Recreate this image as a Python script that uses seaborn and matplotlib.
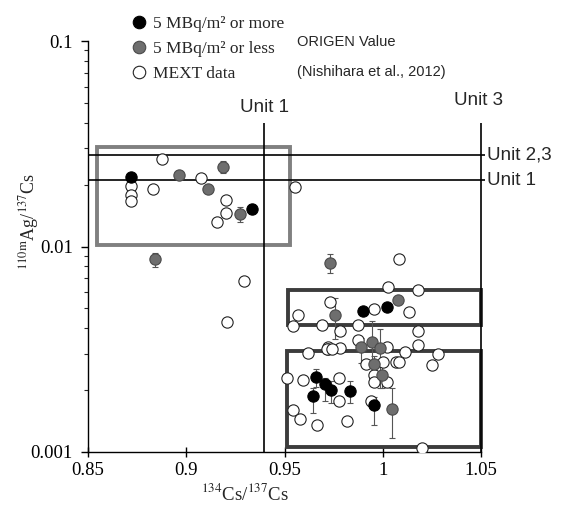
import matplotlib
matplotlib.use("Agg")
import numpy as np
import pandas as pd
import seaborn as sns
import matplotlib.pyplot as plt
from matplotlib.lines import Line2D
from matplotlib.patches import Rectangle

# ---- data ----
# 5 MBq/m2 or more (black)
black_x = [0.8719, 0.9336, 0.9900, 1.0022, 0.9660, 0.9706, 0.9737, 0.9644, 0.9832, 0.9955]
black_y = [0.0217, 0.0153, 0.00485, 0.00506, 0.00231, 0.00214, 0.00200, 0.00187, 0.00198, 0.00169]
black_lo = [0.0217, 0.0144, 0.00485, 0.00506, 0.00208, 0.00177, 0.00173, 0.00154, 0.00174, 0.00135]
black_hi = [0.0217, 0.0161, 0.00485, 0.00506, 0.00253, 0.00230, 0.00222, 0.00206, 0.00222, 0.00186]

# 5 MBq/m2 or less (gray)
gray_x = [0.8962, 0.9189, 0.9112, 0.9275, 0.8843, 0.9730, 1.0079, 0.9759, 0.9888, 0.9947,
          0.9988, 0.9954, 0.9998, 1.0049]
gray_y = [0.0223, 0.02445, 0.0190, 0.01439, 0.00866, 0.00828, 0.00547, 0.00462, 0.00323, 0.00342,
          0.00320, 0.00268, 0.00237, 0.00161]
gray_lo = [0.0223, 0.0227, 0.0190, 0.0132, 0.00792, 0.0074, 0.00547, 0.00354, 0.00271, 0.00271,
           0.00204, 0.00245, 0.00204, 0.00117]
gray_hi = [0.0223, 0.02615, 0.0190, 0.01562, 0.00933, 0.0092, 0.00547, 0.00564, 0.0036, 0.00435,
           0.00398, 0.00292, 0.00275, 0.00206]

# MEXT data (open)
open_x = [0.8877, 0.8719, 0.8719, 0.8719, 0.8829, 0.9073, 0.9200, 0.9200, 0.9155, 0.9555, 0.9296, 0.9207,
          0.9570, 0.9545, 1.0083, 1.0025, 1.0178, 0.9732, 0.9957, 1.0134, 0.9690, 0.9780,
          0.9876, 1.0178, 0.9876, 0.9723, 0.9723, 0.9780, 0.9621, 1.0023, 1.0113, 1.0178,
          1.0283, 1.0252, 0.9915, 1.0000, 1.0067, 1.0084, 0.9957, 0.9957, 1.0023, 0.9514,
          0.9593, 0.9779, 0.9779, 0.9939, 0.9545, 0.9579, 0.9664, 0.9816, 1.0198, 0.9715, 0.9740]
open_y = [0.0267, 0.0197, 0.0179, 0.0166, 0.0190, 0.0215, 0.0169, 0.0146, 0.0131, 0.0194, 0.00677, 0.0043,
          0.00465, 0.0041, 0.0087, 0.00636, 0.00614, 0.00537, 0.00495, 0.00481, 0.00414, 0.0039,
          0.00414, 0.0039, 0.0035, 0.00325, 0.00317, 0.00322, 0.00302, 0.00325, 0.00308, 0.0033,
          0.0030, 0.00264, 0.00268, 0.00275, 0.00275, 0.00275, 0.00237, 0.0022, 0.0022, 0.00228,
          0.00225, 0.00228, 0.00178, 0.00177, 0.0016, 0.00145, 0.00135, 0.00141, 0.00104, 0.00316, 0.00316]

# ORIGEN reference values
unit_x = {"Unit 1": 0.9396, "Unit 3": 1.05}
unit_y = {"Unit 2,3": 0.0279, "Unit 1": 0.0210}
# highlighted regions: (x0, x1, y0, y1)
light_box = (0.8546, 0.9528, 0.0102, 0.0305)
dark_boxes = [(0.9518, 1.05, 0.00415, 0.00614), (0.9515, 1.05, 0.00106, 0.0031)]

labels = ["5 MBq/m\u00b2 or more", "5 MBq/m\u00b2 or less", "MEXT data"]

df = pd.concat([
    pd.DataFrame({"x": open_x, "y": open_y, "group": labels[2]}),
    pd.DataFrame({"x": gray_x, "y": gray_y, "group": labels[1], "lo": gray_lo, "hi": gray_hi}),
    pd.DataFrame({"x": black_x, "y": black_y, "group": labels[0], "lo": black_lo, "hi": black_hi}),
], ignore_index=True)

sns.set_theme(style="ticks")
plt.rcParams["font.family"] = ["Liberation Serif", "DejaVu Serif"]
plt.rcParams["mathtext.fontset"] = "stix"

fig = plt.figure(figsize=(5.67, 5.12), dpi=100)
ax = fig.add_axes([88 / 567, 1 - 452 / 512, 393 / 567, 411 / 512])
ax.set_yscale("log")

# boxes
ax.add_patch(Rectangle((light_box[0], light_box[2]), light_box[1] - light_box[0],
                       light_box[3] - light_box[2], fill=False, ec="#808080", lw=2.8, zorder=1))
for b in dark_boxes:
    ax.add_patch(Rectangle((b[0], b[2]), b[1] - b[0], b[3] - b[2], fill=False,
                           ec="#3c3c3c", lw=2.8, zorder=1, clip_on=False))

# reference lines
line_top = 0.040
for name, xv in unit_x.items():
    ax.vlines(xv, 0.001, line_top, color="black", lw=1.2, zorder=2, clip_on=False)
for name, yv in unit_y.items():
    ax.hlines(yv, 0.85, 1.052, color="black", lw=1.2, zorder=2, clip_on=False)

ax.text(unit_x["Unit 1"], 0.0475, "Unit 1", family="Liberation Sans", fontsize=13.5,
        ha="center", va="center")
ax.text(unit_x["Unit 3"] - 0.0015, 0.0515, "Unit 3", family="Liberation Sans", fontsize=13.5,
        ha="center", va="center")
for name, yv in unit_y.items():
    ax.text(1.053, yv, name, family="Liberation Sans", fontsize=13.5, ha="left", va="center")

# error bars
err = df.dropna(subset=["lo"])
err = err[err["hi"] > err["lo"]]
ax.errorbar(err["x"], err["y"], yerr=[err["y"] - err["lo"], err["hi"] - err["y"]],
            fmt="none", ecolor="#555555", elinewidth=0.8, capsize=2, capthick=0.8, zorder=3)

styles = {labels[2]: ("white", "#222222"), labels[1]: ("#6e6e6e", "#4a4a4a"),
          labels[0]: ("black", "black")}
for i, g in enumerate([labels[2], labels[1], labels[0]]):
    fc, ec = styles[g]
    sns.scatterplot(data=df[df["group"] == g], x="x", y="y", ax=ax, s=66, color=fc,
                    edgecolor=ec, linewidth=0.8, zorder=4 + i, legend=False)

ax.set_xlim(0.85, 1.05)
ax.set_ylim(0.001, 0.1)
ax.set_xticks([0.85, 0.9, 0.95, 1.0, 1.05])
ax.set_xticklabels(["0.85", "0.9", "0.95", "1", "1.05"])
ax.set_yticks([0.001, 0.01, 0.1])
ax.set_yticklabels(["0.001", "0.01", "0.1"])
ax.tick_params(axis="both", labelsize=13.5, colors="black")
ax.tick_params(axis="y", which="major", direction="out", length=5, width=1, pad=6)
ax.tick_params(axis="y", which="minor", direction="out", length=3, width=0.8)
ax.tick_params(axis="x", which="major", direction="inout", length=7, width=1, pad=4)
for s in ["top", "right"]:
    ax.spines[s].set_visible(False)
for s in ["left", "bottom"]:
    ax.spines[s].set_color("black")
    ax.spines[s].set_linewidth(1.0)

ax.set_xlabel(r"$^{134}$Cs/$^{137}$Cs", fontsize=13.5)
ax.set_ylabel(r"$^{110\mathrm{m}}$Ag/$^{137}$Cs", fontsize=13)
ax.xaxis.set_label_coords((245 - 88) / 393, -0.075)
ax.yaxis.set_label_coords(-0.12, (452 - 221) / 411)

handles = [Line2D([], [], ls="none", marker="o", ms=9, mfc=styles[g][0], mec=styles[g][1],
                  mew=0.8) for g in labels]
fig.legend(handles, labels, loc="upper left", bbox_to_anchor=(129 / 567, 1 - 16 / 512),
           frameon=False, fontsize=12.5, handletextpad=0.2, labelspacing=0.5,
           handlelength=1.2, borderaxespad=0, borderpad=0)

fig.text(297 / 567, 1 - 42 / 512, "ORIGEN Value", family="Liberation Sans", fontsize=10.5,
         va="center")
fig.text(297 / 567, 1 - 72 / 512, "(Nishihara et al., 2012)", family="Liberation Sans",
         fontsize=10.5, va="center")

fig.savefig("out.png", dpi=100)
